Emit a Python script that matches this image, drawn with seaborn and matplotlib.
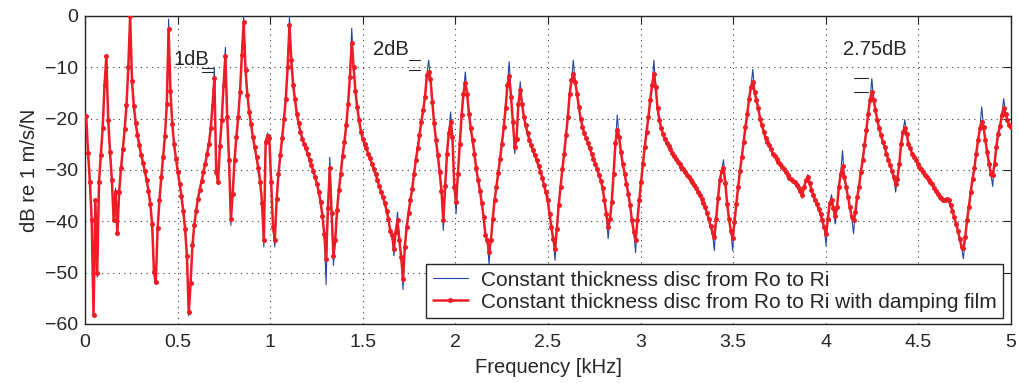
import numpy as np
import pandas as pd
import matplotlib
matplotlib.use("Agg")
import matplotlib.pyplot as plt
import seaborn as sns

# ---------------- data ----------------
first_freq_khz = 0.0065
last_freq_khz = 5.0

# Response with damping film, dB re 1 m/s/N (one value per frequency line)
film_db = [
    -19.5, -26.6, -32.3, -39.7, -58.2, -35.8, -50.1, -32.3, -27.0, -21.8,
    -13.5, -7.8, -20.2, -26.4, -31.9, -39.8, -34.2, -42.3, -34.2, -29.7,
    -26.0, -22.1, -17.4, -9.9, 0.0, -12.7, -17.5, -20.8, -23.2, -25.2,
    -27.0, -28.6, -30.2, -32.0, -34.0, -36.6, -40.5, -49.9, -51.9, -41.3,
    -35.9, -31.4, -27.5, -23.4, -17.2, -2.6, -14.6, -21.0, -25.0, -27.8,
    -30.3, -32.7, -35.1, -38.0, -41.5, -46.7, -57.7, -52.1, -44.7, -40.8,
    -37.9, -35.7, -33.8, -32.2, -30.4, -28.8, -26.9, -24.9, -21.9, -17.4,
    -12.0, -30.4, -32.3, -25.3, -20.3, -13.5, -7.7, -19.7, -28.1, -39.6,
    -34.6, -28.1, -23.6, -19.7, -14.8, -7.6, -1.2, -10.5, -15.3, -18.7,
    -21.1, -23.5, -25.5, -27.5, -29.7, -32.3, -36.4, -43.7, -24.5, -23.3,
    -23.8, -32.3, -41.1, -43.6, -35.7, -30.7, -27.1, -23.8, -20.1, -16.1,
    -9.9, -1.8, -8.6, -13.5, -16.2, -19.0, -20.9, -22.6, -23.9, -24.9,
    -25.8, -26.9, -28.0, -29.1, -30.2, -31.4, -32.7, -34.3, -36.3, -38.9,
    -42.5, -47.3, -37.5, -29.7, -38.4, -46.7, -43.6, -37.7, -33.8, -30.7,
    -27.3, -24.5, -21.3, -17.2, -11.8, -5.2, -9.9, -14.6, -17.8, -20.3,
    -22.5, -23.9, -24.9, -25.8, -26.8, -27.7, -28.8, -29.9, -30.8, -31.9,
    -33.1, -34.2, -35.3, -36.4, -37.9, -39.5, -41.8, -42.7, -45.3, -42.1,
    -39.8, -43.7, -47.0, -51.2, -45.0, -41.1, -38.4, -35.9, -33.7, -30.8,
    -28.1, -25.8, -23.2, -20.6, -18.4, -15.8, -11.5, -10.9, -12.2, -16.7,
    -20.9, -24.2, -27.1, -30.4, -34.0, -39.8, -33.1, -26.8, -22.8, -20.6,
    -23.6, -33.3, -36.2, -30.7, -24.9, -19.3, -15.1, -13.1, -15.1, -19.0,
    -21.9, -24.2, -26.8, -29.7, -32.0, -34.0, -36.4, -39.2, -42.7, -43.7,
    -46.0, -43.7, -39.5, -35.9, -33.3, -30.6, -27.8, -24.9, -21.7, -18.0,
    -13.5, -11.7, -15.8, -20.6, -25.5, -23.9, -17.1, -14.5, -17.1, -19.7,
    -21.3, -22.8, -24.1, -25.2, -26.2, -27.1, -28.1, -29.2, -30.3, -31.5,
    -32.9, -34.3, -35.9, -38.5, -41.1, -43.4, -45.3, -41.5, -36.9, -33.3,
    -29.9, -26.8, -23.2, -19.7, -15.2, -12.5, -11.3, -12.8, -15.1, -17.7,
    -20.0, -21.6, -22.8, -23.8, -24.8, -25.8, -26.8, -27.8, -28.8, -29.8,
    -30.9, -32.1, -33.5, -35.9, -38.5, -41.1, -39.5, -36.2, -30.7, -24.7,
    -22.3, -23.6, -26.5, -28.8, -30.7, -32.7, -34.6, -36.9, -39.8, -42.0,
    -43.7, -39.8, -35.9, -32.3, -28.8, -25.5, -22.6, -19.7, -16.4, -13.5,
    -11.3, -13.8, -18.0, -20.3, -21.9, -23.0, -23.9, -24.7, -25.4, -26.0,
    -26.6, -27.2, -27.8, -28.4, -28.9, -29.4, -29.9, -30.4, -30.9, -31.4,
    -31.9, -32.4, -33.0, -33.6, -34.2, -34.9, -35.6, -36.4, -37.3, -38.4,
    -39.6, -41.0, -42.2, -43.0, -39.5, -35.5, -32.0, -30.2, -29.6, -32.5,
    -36.6, -39.5, -41.8, -43.2, -40.2, -36.6, -33.3, -30.1, -27.5, -24.5,
    -21.6, -19.0, -16.1, -13.8, -12.8, -14.8, -16.4, -18.0, -20.0, -21.3,
    -22.6, -23.7, -24.5, -25.2, -26.0, -26.8, -27.3, -27.9, -28.4, -28.9,
    -29.4, -29.9, -30.4, -31.0, -31.5, -31.8, -32.1, -32.4, -33.0, -33.6,
    -34.0, -34.9, -33.3, -32.0, -31.4, -32.5, -33.8, -34.8, -35.8, -36.6,
    -37.6, -38.6, -39.8, -41.2, -42.4, -39.5, -36.5, -35.8, -37.5, -39.0,
    -37.2, -33.3, -30.7, -29.3, -31.4, -33.3, -35.3, -37.2, -39.2, -39.8,
    -38.2, -35.3, -33.3, -30.4, -28.1, -25.2, -22.3, -19.0, -16.4, -14.8,
    -16.4, -18.4, -20.3, -21.9, -23.2, -24.5, -25.5, -26.8, -28.0, -29.1,
    -30.1, -31.4, -32.7, -31.7, -28.8, -24.9, -22.6, -21.9, -22.9, -24.9,
    -25.8, -26.8, -27.5, -28.1, -28.8, -29.4, -29.9, -30.4, -30.9, -31.4,
    -31.9, -32.3, -32.8, -33.5, -34.0, -34.6, -35.3, -35.5, -35.8, -35.8,
    -35.6, -35.9, -36.9, -37.9, -39.2, -40.5, -41.8, -43.4, -45.0, -45.2,
    -43.1, -39.8, -37.2, -34.3, -31.7, -29.7, -26.8, -24.2, -21.9, -20.6,
    -21.6, -24.2, -26.5, -28.8, -30.7, -31.0, -28.8, -25.5, -22.9, -21.5,
    -19.3, -18.0, -19.0, -20.3, -21.3, -21.6,
]

# Undamped disc: identical to the damped curve except at the resonance
# peaks / antiresonance troughs, where it reaches further (line index, dB)
plain_line_idx = [6, 16, 45, 56, 70, 76, 79, 86, 97, 99, 103, 111, 131, 133,
                  135, 145, 168, 170, 173, 187, 195, 199, 202, 207, 220, 231,
                  234, 237, 256, 266, 285, 290, 300, 310, 343, 348, 353, 364,
                  391, 394, 404, 407, 409, 413, 419, 429, 442, 447, 479, 489,
                  495, 501]
plain_line_db = [-50.9, -33.5, -0.6, -58.4, -10.1, -6.1, -40.8, -0.1, -45.0,
                 -22.8, -45.0, -0.1, -52.3, -27.5, -48.6, -2.4, -46.7, -38.2,
                 -53.3, -8.6, -41.8, -18.7, -38.5, -10.9, -48.3, -8.9, -26.8,
                 -12.8, -47.6, -8.6, -43.4, -19.3, -46.1, -8.6, -45.7, -28.0,
                 -45.7, -10.4, -35.5, -30.9, -44.7, -34.8, -40.5, -26.2, -42.4,
                 -12.2, -34.3, -20.2, -47.3, -17.7, -33.2, -16.1]

x_ticks = [0, 0.5, 1, 1.5, 2, 2.5, 3, 3.5, 4, 4.5, 5]
x_tick_labels = ["0", "0.5", "1", "1.5", "2", "2.5", "3", "3.5", "4", "4.5", "5"]
y_ticks = [-60, -50, -40, -30, -20, -10, 0]
y_tick_labels = ["\u221260", "\u221250", "\u221240", "\u221230", "\u221220", "\u221210", "0"]

label_plain = "Constant thickness disc from Ro to Ri"
label_film = "Constant thickness disc from Ro to Ri with damping film"

# damping annotations: text, text anchor (kHz, dB), marker bars x-range and two levels
ann_text = ["1dB", "2dB", "2.75dB"]
ann_text_xy = [(0.477, -9.6), (1.553, -7.6), (4.091, -7.6)]
ann_bar_x = [(0.631, 0.690), (1.749, 1.808), (4.150, 4.226)]
ann_bar_y = [(-10.1, -10.9), (-8.6, -10.6), (-12.0, -14.8)]

# ---------------- figure ----------------
BLUE = "#2443a0"
RED = "#ee1d25"
INK = "#262626"

sns.set_theme(style="white")
plt.rcParams["font.family"] = ["Liberation Sans", "DejaVu Sans"]
plt.rcParams["axes.unicode_minus"] = True

n = len(film_db)
freq = np.linspace(first_freq_khz, last_freq_khz, n)
plain = np.array(film_db, dtype=float)
plain[plain_line_idx] = plain_line_db
df = pd.DataFrame({"freq": freq, "film": film_db, "plain": plain})

W, H = 1019, 383
fig = plt.figure(figsize=(W / 100, H / 100), dpi=100)
ax = fig.add_axes([85 / W, 1 - 324 / H, 926 / W, 308 / H])

sns.lineplot(data=df, x="freq", y="plain", ax=ax, color=BLUE, lw=0.8,
             estimator=None, sort=False, label=label_plain, zorder=3)
sns.lineplot(data=df, x="freq", y="film", ax=ax, color=RED, lw=1.8,
             marker="o", markersize=3.6, markeredgewidth=0, markerfacecolor=RED,
             estimator=None, sort=False, label=label_film, zorder=4)

ax.set_xlim(0, 5)
ax.set_ylim(-60, 0)
ax.set_xticks(x_ticks)
ax.set_xticklabels(x_tick_labels)
ax.set_yticks(y_ticks)
ax.set_yticklabels(y_tick_labels)
ax.tick_params(axis="both", which="major", direction="in", length=6, width=0.8,
               color=INK, labelsize=14, labelcolor=INK,
               top=True, right=True, pad=5)
ax.tick_params(axis="x", pad=7)
for sp in ax.spines.values():
    sp.set_visible(True)
    sp.set_color(INK)
    sp.set_linewidth(1.0)

ax.grid(True, which="major", color="#3a3a3a", linestyle=(0, (1, 4)), lw=0.8, zorder=1)
ax.set_axisbelow(True)

ax.set_xlabel("Frequency [kHz]", fontsize=14.5, color=INK, labelpad=5)
ax.set_ylabel("dB re 1 m/s/N", fontsize=14.5, color=INK, labelpad=4)

for t, (tx, ty), (bx0, bx1), (by0, by1) in zip(ann_text, ann_text_xy, ann_bar_x, ann_bar_y):
    ax.text(tx, ty, t, fontsize=14.5, color=INK, ha="left", va="baseline", zorder=5)
    ax.plot([bx0, bx1], [by0, by0], color=INK, lw=0.8, zorder=5)
    ax.plot([bx0, bx1], [by1, by1], color=INK, lw=0.8, zorder=5)

leg = ax.legend(loc="lower right", bbox_to_anchor=(0.991, 0.0195), borderaxespad=0,
                fontsize=15, frameon=True, fancybox=False, framealpha=1,
                edgecolor=INK, handlelength=1.7, handletextpad=0.6,
                borderpad=0.3, labelspacing=0.15, numpoints=1)
leg.get_frame().set_linewidth(1.0)
for txt in leg.get_texts():
    txt.set_color(INK)

fig.savefig("out.png", dpi=100)
